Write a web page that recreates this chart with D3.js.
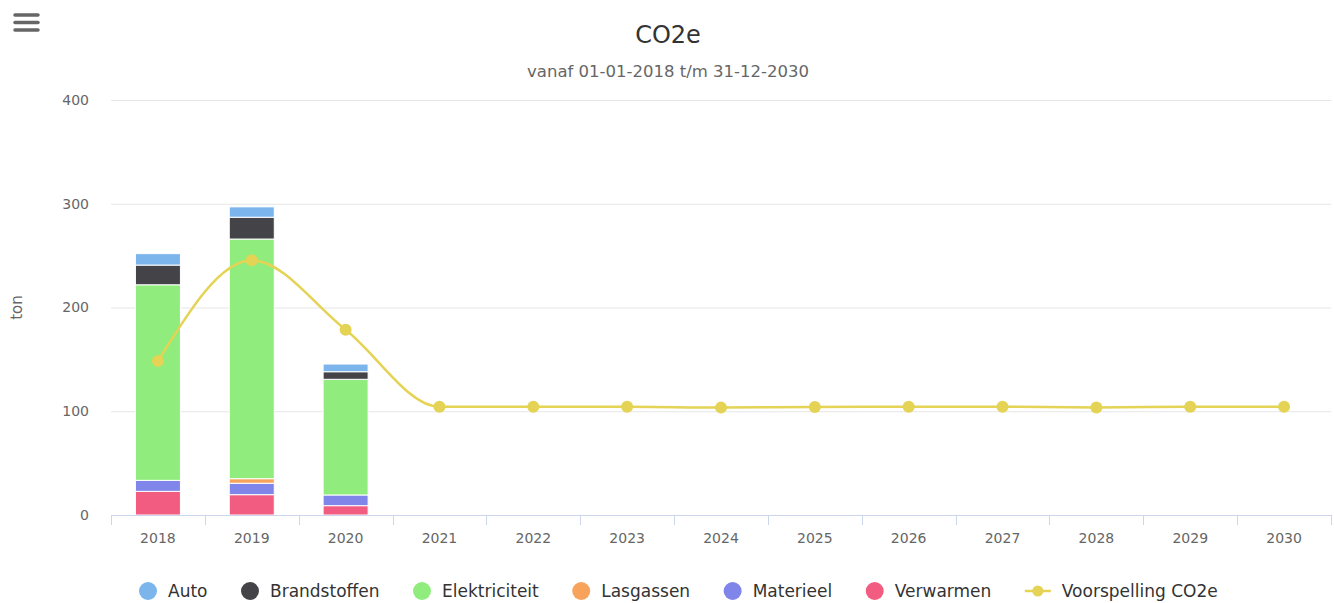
<!DOCTYPE html>
<html>
<head>
<meta charset="utf-8">
<script src="https://cdn.jsdelivr.net/npm/d3@7"></script>
<style>
  body { margin: 0; background: #fff; }
  svg { display: block; font-family: "DejaVu Sans", sans-serif; }
</style>
</head>
<body>
<div id="chart"></div>
<script>
// data
const years = ["2018", "2019", "2020", "2021", "2022", "2023", "2024", "2025", "2026", "2027", "2028", "2029", "2030"];
const seriesNames = ["Auto", "Brandstoffen", "Elektriciteit", "Lasgassen", "Materieel", "Verwarmen"];
const seriesColors = ["#7cb5ec", "#434348", "#90ed7d", "#f7a35c", "#8085e9", "#f15c80"];
const auto = [11, 10, 7.4];
const brandstoffen = [19, 21, 7.3];
const elektriciteit = [188.5, 231, 111.5];
const lasgassen = [0, 4.4, 0];
const materieel = [10.6, 11, 10.3];
const verwarmen = [22.8, 19.6, 9];
const forecast = [148.4, 245.5, 178.6, 104.4, 104.4, 104.4, 103.5, 104.2, 104.3, 104.3, 103.7, 104.3, 104.4];
const yTicks = [0, 100, 200, 300, 400];

const width = 1334, height = 603;
const margin = {top: 100, right: 3, bottom: 88, left: 111};

const svg = d3.select("#chart").append("svg")
    .attr("width", width)
    .attr("height", height);

// menu icon
[15, 22.5, 30].forEach(y => {
  svg.append("line")
      .attr("x1", 15).attr("x2", 38)
      .attr("y1", y).attr("y2", y)
      .attr("stroke", "#666").attr("stroke-width", 3.5)
      .attr("stroke-linecap", "round");
});

svg.append("text")
    .attr("x", width / 2 + 1).attr("y", 43)
    .attr("text-anchor", "middle")
    .attr("font-size", 24).attr("fill", "#333")
    .text("CO2e");

svg.append("text")
    .attr("x", width / 2 + 1).attr("y", 77)
    .attr("text-anchor", "middle")
    .attr("font-size", 16.5).attr("fill", "#666")
    .text("vanaf 01-01-2018 t/m 31-12-2030");

const x = d3.scaleBand()
    .domain(years)
    .range([margin.left, width - margin.right]);

const y = d3.scaleLinear()
    .domain([0, 400])
    .range([height - margin.bottom, margin.top]);

// grid
svg.append("g")
  .selectAll("line")
  .data(yTicks)
  .join("line")
    .attr("x1", margin.left).attr("x2", width - margin.right)
    .attr("y1", d => y(d) + 0.5).attr("y2", d => y(d) + 0.5)
    .attr("stroke", "#e6e6e6");

svg.append("g")
  .selectAll("text")
  .data(yTicks)
  .join("text")
    .attr("x", 89)
    .attr("y", d => y(d))
    .attr("dy", "0.35em")
    .attr("text-anchor", "end")
    .attr("font-size", 14).attr("fill", "#666")
    .text(d => d);

svg.append("text")
    .attr("transform", `translate(22,${y(200)}) rotate(-90)`)
    .attr("text-anchor", "middle")
    .attr("font-size", 15).attr("fill", "#666")
    .text("ton");

// stacked bars
const rows = years.slice(0, 3).map((yr, i) => ({
  year: yr,
  Auto: auto[i],
  Brandstoffen: brandstoffen[i],
  Elektriciteit: elektriciteit[i],
  Lasgassen: lasgassen[i],
  Materieel: materieel[i],
  Verwarmen: verwarmen[i]
}));

const stackOrder = seriesNames.slice().reverse();
const stack = d3.stack().keys(stackOrder)(rows);
const color = d3.scaleOrdinal(seriesNames, seriesColors);
const barW = 45;

svg.append("g")
  .selectAll("g")
  .data(stack)
  .join("g")
    .attr("fill", d => color(d.key))
  .selectAll("rect")
  .data(d => d.filter(s => s[1] - s[0] > 0))
  .join("rect")
    .attr("x", d => x(d.data.year) + x.bandwidth() / 2 - barW / 2)
    .attr("y", d => y(d[1]))
    .attr("width", barW)
    .attr("height", d => y(d[0]) - y(d[1]))
    .attr("stroke", "#fff")
    .attr("stroke-width", 1);

// x axis
const axisY = height - margin.bottom;
svg.append("line")
    .attr("x1", margin.left).attr("x2", width - margin.right)
    .attr("y1", axisY + 0.5).attr("y2", axisY + 0.5)
    .attr("stroke", "#ccd6eb");

svg.append("g")
  .selectAll("line")
  .data(years.concat(["end"]))
  .join("line")
    .attr("x1", (d, i) => Math.round(margin.left + i * x.step()) + 0.5)
    .attr("x2", (d, i) => Math.round(margin.left + i * x.step()) + 0.5)
    .attr("y1", axisY).attr("y2", axisY + 10)
    .attr("stroke", "#ccd6eb");

svg.append("g")
  .selectAll("text")
  .data(years)
  .join("text")
    .attr("x", d => x(d) + x.bandwidth() / 2)
    .attr("y", axisY + 23)
    .attr("dy", "0.35em")
    .attr("text-anchor", "middle")
    .attr("font-size", 14).attr("fill", "#666")
    .text(d => d);

// forecast spline
const lineColor = "#e4d354";
const line = d3.line()
    .x((d, i) => x(years[i]) + x.bandwidth() / 2)
    .y(d => y(d))
    .curve(d3.curveMonotoneX);

svg.append("path")
    .datum(forecast)
    .attr("fill", "none")
    .attr("stroke", lineColor)
    .attr("stroke-width", 2.5)
    .attr("d", line);

svg.append("g")
  .selectAll("circle")
  .data(forecast)
  .join("circle")
    .attr("cx", (d, i) => x(years[i]) + x.bandwidth() / 2)
    .attr("cy", d => y(d))
    .attr("r", 6)
    .attr("fill", lineColor);

// legend
const legend = svg.append("g").attr("transform", "translate(139,591)");
const items = seriesNames.concat(["Voorspelling CO2e"]);
let lx = 0;
items.forEach((name, i) => {
  const g = legend.append("g").attr("transform", `translate(${lx},0)`);
  let symW = 18;
  if (i < seriesNames.length) {
    g.append("circle").attr("cx", 9).attr("cy", 0).attr("r", 9).attr("fill", color(name));
  } else {
    symW = 26;
    g.append("line").attr("x1", 0).attr("x2", 26).attr("y1", 0).attr("y2", 0)
        .attr("stroke", lineColor).attr("stroke-width", 2.5);
    g.append("circle").attr("cx", 13).attr("cy", 0).attr("r", 5.5).attr("fill", lineColor);
  }
  const t = g.append("text")
      .attr("x", symW + 11)
      .attr("dy", "0.35em")
      .attr("font-size", 17).attr("fill", "#333")
      .text(name);
  lx += symW + 11 + t.node().getComputedTextLength() + 33.5;
});
</script>
</body>
</html>
